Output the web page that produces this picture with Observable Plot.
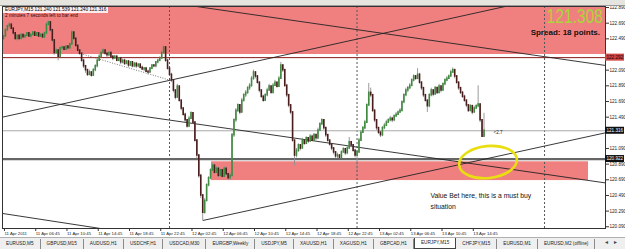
<!DOCTYPE html>
<html><head><meta charset="utf-8">
<script src="https://cdn.jsdelivr.net/npm/d3@7"></script>
<script src="https://cdn.jsdelivr.net/npm/@observablehq/plot@0.6"></script>
<style>
html,body{margin:0;padding:0;background:#fff;}
#wrap{position:relative;width:625px;height:249px;overflow:hidden;font-family:'Liberation Sans',Arial,sans-serif;}
#chart svg{display:block}
.toolbar{position:absolute;left:0;top:0;width:625px;height:5px;background:#e6e4de;border-bottom:1px solid #9a9a9a;}
.info{position:absolute;left:3px;top:7px;font-size:4.7px;line-height:6px;color:#000;}
.info .l1{background:rgba(255,255,255,.85);padding:0 2px;display:inline-block;}
.info .l2{color:#3a0000;padding:0 2px;}
.big{position:absolute;right:22px;top:4px;font-size:21px;line-height:24px;color:#a6d63a;transform:scaleX(0.74);transform-origin:right top;white-space:nowrap;}
.spread{position:absolute;right:25px;top:28px;font-size:8px;font-weight:bold;color:#111;white-space:nowrap;}
.tabs{position:absolute;left:0;top:237px;width:625px;height:12px;background:#efefef;border-top:1px solid #b0b0b0;font-size:4.7px;color:#222;white-space:nowrap;}
.tab{display:inline-block;padding:0 6px;line-height:10px;margin-top:1px;border-right:1px solid #8a8a8a;vertical-align:top;}
.tab.active{background:#fff;border:1px solid #444;border-top:none;line-height:10px;margin-top:0;}
.arrows{position:absolute;right:3px;top:1px;font-size:5px;color:#444;letter-spacing:4px;}
</style>
</head><body>
<div id="wrap">
  <div id="chart"></div>
  <div class="toolbar"></div>
  <div class="info"><div class="l1" id="l1"></div><div class="l2" id="l2"></div></div>
  <div class="big" id="big"></div>
  <div class="spread" id="spread"></div>
  <div class="tabs" id="tabs"><span class="arrows">◄►</span></div>
</div>
<script>
// ---------- data ----------
const symbolInfo = "EURJPY,M15  121.240 121.539 121.240 121.316";
const timerText = "2 minutes 7 seconds left to bar end";
const bigPrice = "121.308";
const spreadText = "Spread: 18 points.";
const tabNames = ["EURUSD,M5","GBPUSD,M15","AUDUSD,H1","USDCHF,H1","USDCAD,M30","EURGBP,Weekly","USDJPY,M5","XAUUSD,H1","XAGUSD,H1","GBPCAD,H1","EURJPY,M15","CHFJPY,M15","EURUSD,M1","EURUSD,M2 (offline)"];
const activeTab = "EURJPY,M15";

const firstOpen = 122.49;
const close = [
122.52,122.60,122.65,122.67,122.62,122.56,122.49,122.53,122.49,122.54,
122.51,122.53,122.56,122.52,122.54,122.57,122.53,122.56,122.52,122.54,
122.51,122.56,122.67,122.70,122.60,122.47,122.31,122.34,122.26,122.37,
122.38,122.35,122.39,122.37,122.42,122.57,122.49,122.40,122.34,122.30,
122.21,122.14,122.09,122.03,122.06,122.02,122.09,122.14,122.21,122.26,
122.31,122.34,122.30,122.28,122.31,122.26,122.24,122.26,122.21,122.24,
122.19,122.21,122.17,122.20,122.15,122.19,122.14,122.17,122.14,122.16,
122.12,122.10,122.11,122.07,122.06,122.11,122.15,122.14,122.19,122.21,
122.24,122.31,122.38,122.21,122.11,122.03,121.96,121.83,121.74,121.88,
121.70,121.60,121.52,121.45,121.37,121.47,121.54,121.42,121.19,121.00,
120.74,120.49,120.27,120.42,120.62,120.71,120.81,120.87,120.78,120.83,
120.74,120.81,120.73,120.83,120.76,120.71,120.74,121.26,121.45,121.57,
121.64,121.55,121.70,121.77,121.80,121.86,121.89,121.98,122.06,122.01,
121.93,121.83,121.75,121.70,121.77,121.83,121.88,121.80,121.89,121.93,
121.88,121.98,122.15,122.09,121.89,121.77,121.64,121.55,121.19,121.00,
121.06,121.13,121.09,121.19,121.15,121.22,121.18,121.24,121.19,121.26,
121.22,121.32,121.40,121.45,121.35,121.26,121.19,121.14,121.09,121.04,
120.99,121.00,120.97,121.04,121.08,121.03,121.09,121.17,121.13,121.06,
121.00,121.04,121.19,121.29,121.35,121.42,121.64,121.80,121.77,121.57,
121.45,121.35,121.29,121.26,121.35,121.38,121.42,121.45,121.47,121.45,
121.50,121.52,121.55,121.57,121.68,121.77,121.83,121.86,121.89,121.96,
122.01,121.98,122.03,121.93,121.86,121.77,121.70,121.63,121.77,121.83,
121.78,121.86,121.80,121.88,121.83,121.91,121.96,121.98,122.01,122.06,
122.09,122.01,121.93,121.86,121.80,121.75,121.70,121.64,121.57,121.63,
121.55,121.60,121.63,121.65,121.45,121.24,121.316];
const high = [
122.54,122.62,122.67,122.70,122.69,122.63,122.57,122.54,122.54,122.56,
122.56,122.54,122.57,122.57,122.56,122.58,122.58,122.57,122.57,122.56,
122.56,122.58,122.70,122.72,122.71,122.61,122.48,122.37,122.35,122.39,
122.40,122.39,122.40,122.40,122.44,122.60,122.58,122.51,122.42,122.35,
122.31,122.23,122.15,122.10,122.09,122.07,122.11,122.16,122.24,122.29,
122.34,122.37,122.35,122.31,122.33,122.33,122.28,122.28,122.28,122.25,
122.25,122.23,122.23,122.21,122.21,122.20,122.20,122.19,122.19,122.17,
122.17,122.14,122.12,122.12,122.09,122.12,122.16,122.16,122.20,122.23,
122.26,122.34,122.40,122.39,122.23,122.12,122.05,121.97,121.84,121.91,
121.89,121.71,121.61,121.54,121.46,121.50,121.56,121.55,121.43,121.20,
121.01,120.76,120.50,120.45,120.64,120.73,120.83,120.90,120.88,120.86,
120.85,120.83,120.82,120.86,120.85,120.77,120.78,121.28,121.47,121.60,
121.66,121.65,121.73,121.79,121.83,121.88,121.92,122.01,122.09,122.07,
122.02,121.94,121.84,121.77,121.79,121.86,121.91,121.89,121.92,121.96,
121.94,122.01,122.19,122.16,122.10,121.91,121.78,121.65,121.56,121.20,
121.09,121.15,121.14,121.22,121.20,121.24,121.23,121.27,121.26,121.28,
121.27,121.35,121.42,121.47,121.46,121.36,121.27,121.20,121.15,121.10,
121.05,121.03,121.01,121.06,121.10,121.09,121.12,121.23,121.18,121.14,
121.08,121.06,121.22,121.32,121.37,121.45,121.66,121.92,121.86,121.78,
121.59,121.46,121.36,121.31,121.37,121.41,121.45,121.47,121.50,121.49,
121.52,121.55,121.57,121.60,121.70,121.79,121.86,121.88,121.92,121.98,
122.03,122.02,122.11,122.05,121.94,121.87,121.78,121.71,121.79,121.86,
121.84,121.88,121.87,121.91,121.89,121.93,121.98,122.01,122.03,122.09,
122.12,122.10,122.02,121.94,121.87,121.82,121.77,121.71,121.65,121.65,
121.64,121.63,121.65,121.89,121.66,121.46,121.539];
const low = [
122.47,122.51,122.58,122.62,122.60,122.53,122.47,122.46,122.47,122.48,
122.48,122.49,122.51,122.51,122.49,122.53,122.52,122.52,122.51,122.51,
122.49,122.49,122.54,122.65,122.57,122.44,122.28,122.29,122.21,122.25,
122.34,122.33,122.34,122.34,122.35,122.40,122.47,122.38,122.31,122.28,
122.19,122.11,122.05,122.01,122.02,122.00,122.01,122.07,122.12,122.20,
122.25,122.30,122.28,122.25,122.26,122.25,122.21,122.23,122.20,122.20,
122.16,122.17,122.15,122.16,122.12,122.14,122.12,122.12,122.11,122.12,
122.11,122.09,122.07,122.06,122.03,122.05,122.10,122.12,122.12,122.17,
122.20,122.23,122.30,122.19,122.09,122.01,121.93,121.80,121.71,121.73,
121.68,121.57,121.50,121.42,121.35,121.36,121.46,121.40,121.17,120.96,
120.71,120.45,120.17,120.25,120.41,120.60,120.69,120.80,120.76,120.77,
120.72,120.73,120.71,120.72,120.73,120.68,120.68,120.73,121.23,121.42,
121.55,121.52,121.54,121.68,121.74,121.78,121.83,121.87,121.96,121.98,
121.91,121.80,121.73,121.68,121.69,121.75,121.82,121.79,121.79,121.88,
121.86,121.87,121.97,122.06,121.87,121.74,121.61,121.52,121.17,120.87,
120.97,121.04,121.06,121.08,121.13,121.14,121.15,121.17,121.18,121.18,
121.19,121.20,121.31,121.38,121.32,121.23,121.17,121.12,121.06,121.01,
120.96,120.96,120.95,120.96,121.03,121.00,121.01,121.08,121.10,121.04,
120.97,120.81,121.03,121.18,121.28,121.33,121.41,121.63,121.74,121.55,
121.42,121.32,121.27,121.23,121.24,121.33,121.37,121.41,121.43,121.42,
121.43,121.49,121.51,121.54,121.56,121.66,121.75,121.80,121.84,121.88,
121.94,121.96,121.97,121.91,121.83,121.74,121.68,121.55,121.61,121.75,
121.75,121.77,121.78,121.79,121.80,121.82,121.89,121.94,121.97,122.00,
122.05,121.98,121.91,121.83,121.78,121.73,121.68,121.61,121.55,121.56,
121.52,121.54,121.59,121.61,121.42,121.23,121.240];

const timeTickBars = [0,16,32,48,64,80,96,112,128,144,160,176,192,208,224,240];
const timeTickLabels = ["11 Apr 2011","11 Apr 06:45","11 Apr 10:45","11 Apr 14:45","11 Apr 18:45","11 Apr 22:45","12 Apr 02:45","12 Apr 06:45","12 Apr 10:45","12 Apr 14:45","12 Apr 18:45","12 Apr 22:45","13 Apr 02:45","13 Apr 06:45","13 Apr 10:45","13 Apr 14:45"];
const priceTicks = [122.89,122.69,122.49,122.09,121.89,121.69,121.49,121.09,120.89,120.69,120.49,120.29,120.09];
const daySeparatorBars = [85,181,277];

const levelPrices = [122.25, 121.316, 120.955];
const levelLabels = ["122.292","121.316","120.922"];

const topZone = [{low: 122.29, high: 123.2}];
const lowerZone = [{start: 106.5, end: 299.5, low: 120.68, high: 120.92}];

const trendLines = [
  {b1: -0.5, p1: 121.76, b2: 308.2, p2: 120.65},
  {b1: -0.5, p1: 121.49, b2: 256.8, p2: 122.903},
  {b1: 98.8, p1: 122.903, b2: 308.2, p2: 122.15},
  {b1: 102,  p1: 120.17, b2: 308.2, p2: 121.29},
  {b1: -0.5, p1: 120.26, b2: 49.7,  p2: 120.068}
];
const dottedLine = [{b1: 38.4, p1: 122.31, b2: 85.5, p2: 121.96}];

const circleMark = {bar: 248.3, price: 120.91};
const noteText = [{bar: 218.6, price: 120.552, text: "Value Bet here, this is a must buy\nsituation"}];
const smallNote = [{bar: 250.9, price: 121.29, text: "<2.7"}];

// ---------- build ----------
const candles = close.map((c, i) => {
  const o = i === 0 ? firstOpen : close[i - 1];
  return {i, open: o, close: c, high: Math.max(high[i], o, c), low: Math.min(low[i], o, c)};
});

const bull = "#3e8a3e", bear = "#4a1c1c";

const plot = Plot.plot({
  width: 625, height: 249,
  marginTop: 6, marginRight: 20, marginBottom: 21, marginLeft: 2,
  style: {background: "#fff", fontFamily: "'Liberation Sans', Arial, sans-serif", color: "#222", overflow: "visible"},
  x: {domain: [-0.5, 308.2]},
  y: {domain: [120.068, 122.903]},
  marks: [
    Plot.rect(topZone, {y1: "low", y2: "high", fill: "#f08080", clip: true}),
    Plot.rect(lowerZone, {x1: "start", x2: "end", y1: "low", y2: "high", fill: "#f08080"}),
    Plot.ruleX(daySeparatorBars, {stroke: "#555", strokeDasharray: "2,2", strokeWidth: 1}),
    Plot.ruleY([levelPrices[0]], {stroke: "#8b1a1a", strokeWidth: 1}),
    Plot.ruleY([levelPrices[1]], {stroke: "#a8a8a8", strokeWidth: 1}),
    Plot.ruleY([levelPrices[2]], {stroke: "#666", strokeWidth: 2.2}),
    Plot.link(trendLines, {x1: "b1", y1: "p1", x2: "b2", y2: "p2", stroke: "#222", strokeWidth: 0.9, clip: true}),
    Plot.link(dottedLine, {x1: "b1", y1: "p1", x2: "b2", y2: "p2", stroke: "#555", strokeWidth: 0.8, strokeDasharray: "1,1.5"}),
    Plot.ruleX(candles, {x: "i", y1: "low", y2: "high", stroke: "#8e8e8e", strokeWidth: 0.9}),
    Plot.ruleX(candles, {x: "i", y1: "open", y2: "close", stroke: d => d.close >= d.open ? bull : bear, strokeWidth: 1.6, strokeLinecap: "square"}),
    Plot.frame({stroke: "#333", strokeWidth: 1}),
    Plot.text(noteText, {x: "bar", y: "price", text: "text", textAnchor: "start", lineAnchor: "top", fontSize: 6.8, lineHeight: 1.55, fill: "#111"}),
    Plot.text(smallNote, {x: "bar", y: "price", text: "text", textAnchor: "start", fontSize: 4.5, fill: "#222"}),
    Plot.axisY({anchor: "right", ticks: priceTicks, tickFormat: d => d.toFixed(3), tickSize: 3, tickPadding: 1, fontSize: 4.6, stroke: "#333"}),
    Plot.axisX({anchor: "bottom", ticks: timeTickBars, tickFormat: d => timeTickLabels[timeTickBars.indexOf(d)], textAnchor: "start", tickSize: 3, tickPadding: 0, dx: 1, fontSize: 4.3, stroke: "#333"})
  ]
});
document.getElementById("chart").appendChild(plot);

const sx = plot.scale("x"), sy = plot.scale("y");
const svg = d3.select(plot);
const cx = sx.apply(circleMark.bar), cy = sy.apply(circleMark.price);
svg.append("ellipse").attr("cx", cx).attr("cy", cy).attr("rx", 29).attr("ry", 16)
  .attr("fill", "none").attr("stroke", "#e8de10").attr("stroke-width", 2.6)
  .attr("transform", `rotate(-6 ${cx} ${cy})`);

const boxStyles = [{fill: "#cc4444", text: "#2a0000"}, {fill: "#111", text: "#fff"}, {fill: "#111", text: "#fff"}];
levelPrices.forEach((p, k) => {
  const yy = sy.apply(p);
  svg.append("rect").attr("x", 605).attr("y", yy - 3.5).attr("width", 19).attr("height", 7).attr("fill", boxStyles[k].fill);
  svg.append("text").attr("x", 606.5).attr("y", yy + 1.7).attr("font-size", 4.6)
    .attr("text-anchor", "start")
    .attr("fill", boxStyles[k].text).text(levelLabels[k]);
});

// overlays
document.getElementById("l1").textContent = symbolInfo;
document.getElementById("l2").textContent = timerText;
document.getElementById("big").textContent = bigPrice;
document.getElementById("spread").textContent = spreadText;
const tabs = document.getElementById("tabs");
tabNames.forEach(n => {
  const s = document.createElement("span");
  s.className = "tab" + (n === activeTab ? " active" : "");
  s.textContent = n;
  tabs.appendChild(s);
});
</script>
</body></html>
